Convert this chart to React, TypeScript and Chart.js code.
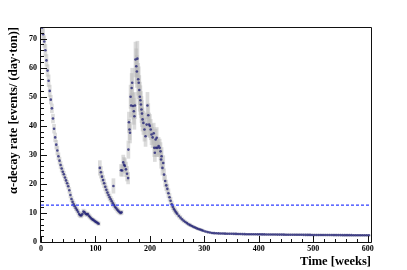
import React, { useEffect, useRef } from "react";
import { Chart, registerables } from "chart.js";

Chart.register(...registerables);

// ---- data ----
const weeks = [
  2, 4, 6, 8, 10, 12, 14, 16, 18, 20, 22, 24, 26, 28, 30, 32, 34, 36, 38, 40,
  42, 44, 46, 48, 50, 52, 54, 56, 58, 60, 62, 64, 66, 68, 70, 72, 74, 76, 78, 80,
  82, 84, 86, 88, 90, 92, 94, 96, 98, 100, 102, 104, 106,
  108, 110, 112, 114, 116, 118, 120, 122, 124, 126, 128, 130, 132, 133, 134, 136, 138, 140, 142, 144, 146, 148,
  147, 149, 151, 152.5, 154, 156, 158, 160, 160.5, 161.5, 162.5, 163.5, 164.5, 165.5, 166.5, 167.5,
  169, 170.5, 171.5, 172.5, 173.5, 175, 176, 177, 178.5, 179.5, 180.5, 181.5, 182.5, 183.5, 184.5, 185.5,
  186.5, 188, 190, 192, 194, 195.5, 197, 198.5, 200, 201.5, 203, 205, 207, 208, 209, 210.5, 211.5, 212.5,
  214, 216, 218, 219.5, 220.5, 221.5, 223, 224.5,
  226, 228, 230, 232, 234, 236, 238, 240, 242, 244, 246, 248, 250, 253, 256, 259, 262, 265, 268, 271,
  274, 277, 280, 283, 286, 289, 292, 295, 298,
  302, 306, 310, 314, 318, 322, 326, 330, 334, 338, 342, 346, 350, 354, 358, 362, 366, 370, 374, 378,
  382, 386, 390, 394, 398, 402, 406, 410, 414, 418, 422, 426, 430, 434, 438, 442, 446, 450, 454, 458,
  462, 466, 470, 474, 478, 482, 486, 490, 494, 498, 502, 506, 510, 514, 518, 522, 526, 530, 534, 538,
  542, 546, 550, 554, 558, 562, 566, 570, 574, 578, 582, 586, 590, 594, 598, 602,
];

const rate = [
  73.8, 71.5, 69, 66, 62.5, 59, 55.5, 52, 49, 46, 42.5, 39, 36, 33.5, 31.5, 29.5, 28, 26.5, 25.3, 24.2,
  23.3, 22.2, 21.2, 20.2, 19.2, 17.8, 16.2, 14.8, 13.8, 13, 12.3, 11.6, 11, 10.4, 9.6, 9.2, 9.1, 9.6, 10.5, 10.2,
  9.7, 9.5, 9.6, 9.0, 8.6, 8.2, 7.8, 7.6, 7.3, 7.0, 6.8, 6.5, 6.3,
  25.5, 24, 22.5, 21.3, 20.2, 19, 18, 17, 16.2, 15.4, 14.7, 14, 13.3, 19.3, 12.7, 12.1, 11.6, 11.1, 10.7, 10.3, 10.0, 10.2,
  24.7, 24.6, 27.4, 26.6, 26.2, 25, 23.5, 22, 31.8, 41.2, 38.7, 37.6, 50, 47, 53, 54.8,
  46.8, 45, 43.3, 47, 62.8, 60.5, 58.7, 63.1, 56, 54.8, 52.3, 50, 48.8, 47.3, 45.6, 44.2,
  42.2, 41, 38.7, 36.4, 40.4, 47, 43.6, 40.4, 39.9, 38.7, 37, 36, 37.4, 32.4, 30.7, 35.3, 32.4, 35.9,
  32.4, 33, 32.4, 31.2, 28.4, 29.5, 25.5, 27.2,
  23.2, 21, 19.5, 18.3, 16.8, 15.4, 14.2, 13, 12.1, 11.4, 10.8, 10.2, 9.7, 9.0, 8.4, 7.8, 7.3, 6.9, 6.5, 6.1,
  5.8, 5.5, 5.2, 5.0, 4.7, 4.5, 4.3, 4.1, 3.85,
  3.6, 3.4, 3.25, 3.12, 3.05, 3.0, 2.96, 2.92, 2.9, 2.88, 2.86, 2.84, 2.82, 2.8, 2.78, 2.76, 2.74, 2.72, 2.7, 2.69,
  2.68, 2.67, 2.66, 2.65, 2.64, 2.63, 2.62, 2.61, 2.6, 2.59, 2.58, 2.57, 2.56, 2.55, 2.54, 2.54, 2.53, 2.52, 2.51, 2.5,
  2.5, 2.49, 2.48, 2.47, 2.47, 2.46, 2.45, 2.45, 2.44, 2.43, 2.43, 2.42, 2.42, 2.41, 2.41, 2.4, 2.4, 2.39, 2.39, 2.38,
  2.38, 2.37, 2.37, 2.36, 2.36, 2.35, 2.35, 2.35, 2.34, 2.34, 2.33, 2.33, 2.33, 2.32, 2.32, 2.32,
];

const rateErr = [
  2, 2, 2, 2, 2, 2, 2, 2, 1.5, 1.5, 1.5, 1.5, 1.5, 1.5, 1.5, 1.2, 1.2, 1.2, 1.2, 1.2,
  1, 1, 1, 1, 1, 1, 1, 0.9, 0.9, 0.9, 0.8, 0.8, 0.8, 0.8, 0.8, 0.8, 0.8, 0.8, 0.8, 0.8,
  0.7, 0.7, 0.7, 0.7, 0.7, 0.6, 0.6, 0.6, 0.6, 0.6, 0.6, 0.6, 0.6,
  2.5, 2, 1.8, 1.6, 1.5, 1.4, 1.3, 1.2, 1.1, 1.1, 1, 1, 1, 2.5, 0.9, 0.9, 0.8, 0.8, 0.8, 0.7, 0.7, 0.7,
  2, 2, 2.5, 2.5, 2.5, 2.5, 2.5, 2, 3, 3.5, 3.5, 3.5, 4, 4, 5, 5,
  4.5, 4.5, 4.5, 4.5, 6, 6, 5.5, 6, 5.5, 5.5, 5, 5, 5, 4.5, 4.5, 4.5,
  4, 4, 4, 3.5, 4, 4.5, 4, 4, 4, 3.5, 3.5, 3.5, 3.5, 3, 3, 3.5, 3, 3.5,
  3, 3, 3, 3, 3, 3, 2.5, 2.5,
  2, 2, 1.8, 1.6, 1.5, 1.3, 1.2, 1.1, 1, 0.9, 0.9, 0.8, 0.8, 0.7, 0.7, 0.6, 0.6, 0.5, 0.5, 0.5,
  0.5, 0.4, 0.4, 0.4, 0.4, 0.4, 0.4, 0.4, 0.35,
  0.35, 0.3, 0.3, 0.3, 0.3, 0.3, 0.3, 0.3, 0.3, 0.3, 0.3, 0.3, 0.3, 0.3, 0.3, 0.3, 0.3, 0.3, 0.3, 0.3,
  0.3, 0.3, 0.3, 0.3, 0.3, 0.3, 0.3, 0.3, 0.3, 0.3, 0.3, 0.3, 0.3, 0.3, 0.3, 0.3, 0.3, 0.3, 0.3, 0.3,
  0.3, 0.3, 0.3, 0.3, 0.3, 0.3, 0.3, 0.3, 0.3, 0.3, 0.3, 0.3, 0.3, 0.3, 0.3, 0.3, 0.3, 0.3, 0.3, 0.3,
  0.3, 0.3, 0.3, 0.3, 0.3, 0.3, 0.3, 0.3, 0.3, 0.3, 0.3, 0.3, 0.3, 0.3, 0.3, 0.3,
];

const thresholdRate = 12.7;
const xRange = [0, 606];
const yRange = [0, 74];
const xMajorTicks = [0, 100, 200, 300, 400, 500, 600];
const yMajorTicks = [0, 10, 20, 30, 40, 50, 60, 70];
const xTitle = "Time [weeks]";
const yTitle = "α-decay rate [events/ (day·ton)]";

const tickFont = { family: "'Liberation Serif', 'Times New Roman', serif", weight: "bold" as const, size: 8 };
const titleFont = { family: "'Liberation Serif', 'Times New Roman', serif", weight: "bold" as const, size: 12.5 };

const frameAndTicks = {
  id: "frameAndTicks",
  afterDraw(chart: any) {
    const { ctx, chartArea: a, scales } = chart;
    const x = scales.x;
    const y = scales.y;
    ctx.save();
    ctx.strokeStyle = "#111";
    ctx.lineWidth = 1;
    ctx.beginPath();
    ctx.rect(a.left - 0.5, a.top + 0.5, a.right - a.left + 1, a.bottom - a.top);
    ctx.stroke();
    ctx.beginPath();
    for (const t of x.ticks) {
      const px = Math.round(x.getPixelForValue(t.value)) + 0.5;
      const len = xMajorTicks.includes(t.value) ? 6 : 3;
      ctx.moveTo(px, a.bottom);
      ctx.lineTo(px, a.bottom - len);
    }
    for (const t of y.ticks) {
      const py = Math.round(y.getPixelForValue(t.value)) + 0.5;
      const len = yMajorTicks.includes(t.value) ? 6 : 3;
      ctx.moveTo(a.left, py);
      ctx.lineTo(a.left + len, py);
    }
    ctx.stroke();
    ctx.restore();
  },
};

export default function App() {
  const ref = useRef<HTMLCanvasElement | null>(null);

  useEffect(() => {
    document.body.style.margin = "0";
    const canvas = ref.current;
    if (!canvas) return;

    const points = weeks.map((w, i) => ({ x: w, y: rate[i] }));
    const errBars = weeks.map((w, i) => ({ x: w, y: [rate[i] - rateErr[i], rate[i] + rateErr[i]] }));

    const chart = new Chart(canvas, {
      type: "scatter",
      data: {
        datasets: [
          {
            type: "line",
            data: [
              { x: xRange[0], y: thresholdRate },
              { x: xRange[1], y: thresholdRate },
            ],
            borderColor: "#2f3dff",
            borderWidth: 1.3,
            borderDash: [3, 2],
            pointRadius: 0,
            order: 0,
          } as any,
          {
            type: "scatter",
            data: points,
            pointRadius: 1.3,
            pointBackgroundColor: "rgba(25,25,115,0.75)",
            pointBorderColor: "rgba(25,25,115,0.75)",
            pointBorderWidth: 0,
            order: 1,
          } as any,
          {
            type: "bar",
            data: errBars,
            backgroundColor: "rgba(185,185,185,0.5)",
            barThickness: 3,
            grouped: false,
            order: 2,
          } as any,
        ],
      },
      options: {
        responsive: false,
        animation: false,
        devicePixelRatio: 1,
        layout: { padding: { top: 27, right: 36, left: 0, bottom: 0 } },
        plugins: { legend: { display: false }, tooltip: { enabled: false } },
        scales: {
          x: {
            type: "linear",
            min: xRange[0],
            max: xRange[1],
            offset: false,
            grid: { display: false, drawTicks: false },
            border: { display: false },
            afterFit: (s: any) => {
              s.height = 28;
            },
            ticks: {
              stepSize: 20,
              includeBounds: false,
              autoSkip: false,
              maxRotation: 0,
              padding: 2,
              color: "#000",
              font: tickFont,
              callback: (v: any) => (xMajorTicks.includes(Number(v)) ? String(v) : ""),
            },
            title: {
              display: true,
              text: xTitle,
              align: "end",
              color: "#000",
              font: titleFont,
              padding: { top: 0, bottom: 1 },
            },
          },
          y: {
            type: "linear",
            min: yRange[0],
            max: yRange[1],
            grid: { display: false, drawTicks: false },
            border: { display: false },
            afterFit: (s: any) => {
              s.width = 41;
            },
            ticks: {
              stepSize: 2,
              includeBounds: false,
              autoSkip: false,
              padding: 4,
              color: "#000",
              font: tickFont,
              callback: (v: any) => (yMajorTicks.includes(Number(v)) ? String(v) : ""),
            },
            title: {
              display: true,
              text: yTitle,
              align: "end",
              color: "#000",
              font: titleFont,
              padding: { top: 6, bottom: 0 },
            },
          },
        },
      } as any,
      plugins: [frameAndTicks],
    });

    return () => chart.destroy();
  }, []);

  return (
    <div style={{ width: 407, height: 270 }}>
      <canvas ref={ref} width={407} height={270} style={{ width: 407, height: 270 }} />
    </div>
  );
}
